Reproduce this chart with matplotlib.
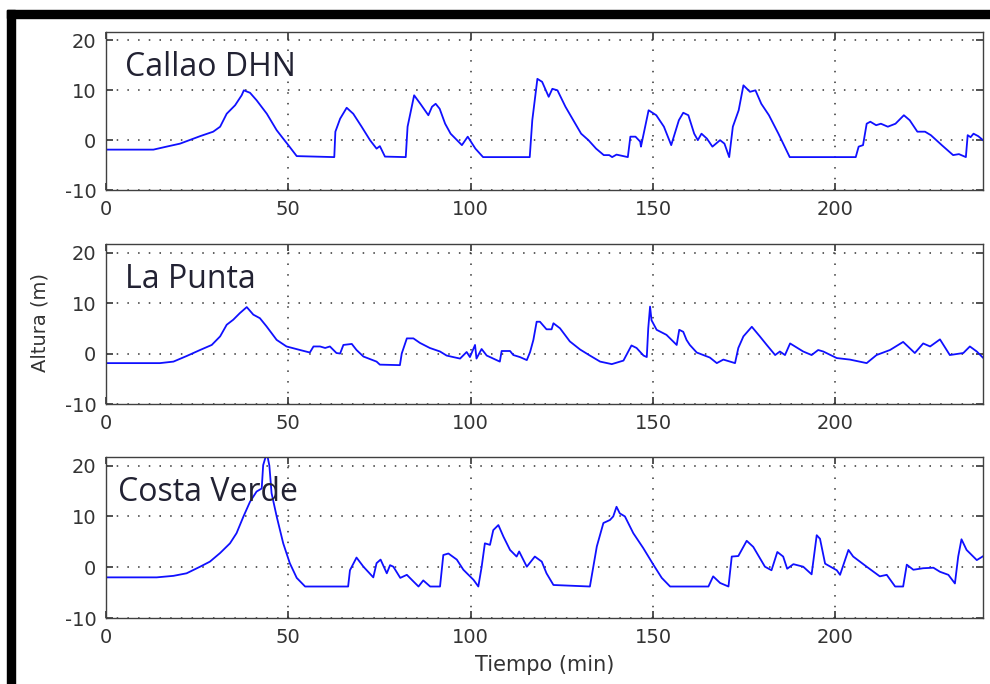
import matplotlib
matplotlib.use("Agg")
import matplotlib.pyplot as plt
from matplotlib.patches import Rectangle

plt.rcParams["axes.unicode_minus"] = False

# station names and tick values
stations = ["Callao DHN", "La Punta", "Costa Verde"]
x_ticks = [0, 50, 100, 150, 200]
y_ticks = [-10, 0, 10, 20]

# Callao DHN (time in min, height in m)
callao_t = [0, 13, 16.6, 20.3, 25.8, 29.4, 31.3, 33.1, 35.4, 37.2, 37.8, 39.5, 41.3, 44.1,
            46.8, 48.6, 50, 52.3, 62.6, 62.9, 64.2, 66, 67.8, 70.1, 72.4, 74.2, 75.1, 76.5,
            82.2, 82.7, 84.5, 86.2, 88.4, 89.4, 90.4, 91.5, 93, 94.5, 97.6, 99.2, 101.3,
            103.4, 116.2, 116.9, 118.3, 119.6, 121.4, 122.4, 123.8, 126, 128.7, 130.3,
            132.3, 134.4, 136.5, 138, 138.8, 140, 143.1, 143.8, 145.2, 146.5, 146.7,
            148.8, 150.9, 153, 155, 157.1, 158.3, 159.7, 161.3, 162.3, 163.3, 164.8,
            166.3, 168.4, 169.6, 170.9, 171.9, 173.5, 174.8, 176.6, 178.1, 179.7, 181.8,
            184.4, 187.5, 205.6, 206.4, 207.6, 208.6, 209.6, 211.2, 212.5, 214.4, 216.5,
            218.8, 220.4, 222.5, 224.6, 226.2, 229.2, 232.3, 233.9, 235.8, 236.3, 237.1,
            237.9, 239.2, 240.5]
callao_h = [-1.9, -1.9, -1.3, -0.7, 0.8, 1.7, 2.7, 5.3, 7.0, 9.0, 10.0, 9.5, 8.0, 5.3,
            2.0, 0.3, -1.0, -3.2, -3.4, 1.7, 4.3, 6.5, 5.3, 2.7, 0.0, -1.7, -1.2, -3.3,
            -3.4, 2.7, 9.0, 7.3, 5.0, 6.7, 7.3, 6.3, 3.3, 1.3, -1.0, 0.7, -1.7,
            -3.4, -3.4, 4.0, 12.3, 11.7, 8.7, 10.3, 10.0, 6.7, 3.3, 1.3,
            0.0, -1.7, -3.0, -3.0, -3.4, -2.9, -3.4, 0.7, 0.7, -0.3, -1.3,
            6.0, 5.0, 2.7, -1.0, 4.0, 5.5, 5.0, 1.3, 0.0, 1.3, 0.3,
            -1.3, 0.0, -0.7, -3.4, 2.7, 6.0, 11.0, 9.7, 10.0, 7.3, 5.0,
            1.3, -3.4, -3.4, -1.3, -1.0, 3.3, 3.7, 3.0, 3.3, 2.7, 3.3,
            5.0, 4.0, 1.7, 1.7, 1.0, -1.0, -3.0, -2.8, -3.4, 1.0, 0.6,
            1.3, 0.8, 0.0]

# La Punta
punta_t = [0, 14.8, 18.5, 22.1, 25.8, 29, 31.3, 33.1, 34.9, 36.7, 38.6, 40.4, 42.2, 44,
           46.8, 49.5, 53.2, 55.9, 56.9, 58.7, 60.1, 61.4, 63.2, 64.2, 65.1, 67.4, 68.7,
           70.6, 74.2, 75.1, 80.6, 81.1, 82.5, 84.3, 86.1, 88.8, 91.6, 93.4, 95.2, 97.1,
           98.9, 99.8, 101.2, 101.6, 103, 104.4, 106.2, 108, 108.5, 110.8, 111.7, 113.5,
           115.4, 116.3, 117.2, 118.1, 119, 120.8, 122.2, 122.7, 124.5, 127.2, 130,
           132.7, 135.5, 138.7, 141.9, 144.1, 145.5, 147.4, 148.3, 148.7, 149.2, 149.6,
           151, 153.7, 156.5, 157.2, 158.3, 159.2, 160.1, 162, 165.6, 167.5, 169.3,
           172.5, 173.4, 174.8, 177.1, 179.3, 181.2, 183.5, 184.8, 186.2, 187.6, 191.2,
           193.5, 195.3, 196.7, 200.4, 204, 208.6, 211.3, 215, 218.6, 221.8, 224.1, 226,
           228.7, 231.4, 235.1, 236.9, 238.8, 240.6]
punta_h = [-1.9, -1.9, -1.6, -0.5, 0.7, 1.7, 3.4, 5.7, 6.7, 8.0, 9.2, 7.7, 7.0, 5.4,
           2.7, 1.4, 0.7, 0.2, 1.4, 1.4, 1.1, 1.4, 0.1, 0.0, 1.7, 1.9, 0.7,
           -0.6, -1.6, -2.2, -2.3, 0.0, 3.0, 3.0, 2.1, 1.1, 0.4, -0.4, -0.7, -1.0,
           0.3, -0.7, 1.7, -1.0, 0.9, -0.4, -1.0, -1.6, 0.5, 0.5, -0.3, -0.7,
           -1.3, 0.3, 2.7, 6.3, 6.3, 4.8, 4.8, 6.0, 5.0, 2.4, 0.8,
           -0.4, -1.6, -2.1, -1.4, 1.6, 1.1, -0.4, -0.7, 5.0, 9.3, 6.6,
           4.7, 3.7, 1.7, 4.7, 4.3, 2.7, 1.7, 0.2, -0.8, -1.9, -1.2,
           -1.9, 1.1, 3.4, 5.3, 3.4, 1.7, -0.3, 0.4, -0.3, 2.0, 0.4,
           -0.3, 0.7, 0.4, -0.9, -1.2, -1.9, -0.3, 0.7, 2.3, 0.1, 2.0, 1.4,
           2.8, -0.3, 0.1, 1.4, 0.4, -0.9]

# Costa Verde
costa_t = [0, 13.9, 18.5, 22.1, 25.8, 28.5, 31.3, 34, 35.8, 37.7, 39.5, 41.3, 42.7, 43.1,
           44.1, 44.8, 45.4, 46.8, 48.6, 50.4, 52.3, 54.6, 66.4, 66.9, 68.7, 70.6, 73.3,
           74.2, 75.3, 77, 77.9, 78.8, 80.7, 82.5, 84.3, 85.7, 87, 88.9, 91.6, 92.5, 93.9,
           96.2, 98, 100.8, 102.1, 103, 103.9, 105.3, 106.2, 107.6, 109, 110.8, 112.6,
           113.3, 115.4, 117.6, 119.5, 120.8, 122.7, 132.7, 134.6, 136.4, 138.2, 139.1,
           140, 140.9, 142.3, 144.6, 147.3, 150.1, 152.4, 154.7, 165.2, 166.5, 168.4,
           170.7, 171.6, 173.4, 175.7, 177.5, 180.7, 182.5, 184.1, 185.7, 186.8, 188.5,
           191.2, 193.5, 194.9, 195.8, 197.2, 200.4, 201.3, 203.6, 204.9, 208.6, 212.2,
           214.1, 216.4, 218.6, 219.6, 221.4, 224.1, 226.9, 228.7, 231, 232.8, 233.7,
           234.6, 236, 238.8, 240.6]
costa_h = [-2.0, -2.0, -1.7, -1.2, 0.1, 1.1, 2.8, 4.7, 6.7, 10.0, 12.9, 14.9, 15.5, 20.1,
           22.5, 20.0, 14.6, 10.0, 4.7, 0.8, -2.1, -3.8, -3.8, -0.6, 1.9, 0.1, -2.0,
           0.8, 1.5, -1.2, 0.4, 0.1, -2.1, -1.5, -2.8, -3.8, -2.6, -3.8, -3.8, 2.4, 2.7,
           1.5, -0.5, -2.5, -3.8, 0.0, 4.7, 4.4, 7.3, 8.3, 6.0, 3.4, 2.1,
           3.1, 0.1, 2.1, 1.1, -1.2, -3.5, -3.8, 4.1, 8.7, 9.3, 10.0,
           11.9, 10.6, 10.0, 6.7, 3.8, 0.5, -2.1, -3.8, -3.8, -1.8, -3.1,
           -3.8, 2.1, 2.2, 5.2, 4.0, 0.1, -0.6, 3.0, 2.1, -0.3, 0.6,
           0.1, -1.4, 6.3, 5.6, 0.7, -0.6, -1.5, 3.4, 2.1, 0.1, -1.8,
           -1.5, -3.8, -3.8, 0.5, -0.5, -0.2, -0.1, -0.9, -1.5, -3.2, 2.1,
           5.5, 3.4, 1.4, 2.2]

series = [(callao_t, callao_h), (punta_t, punta_h), (costa_t, costa_h)]

W, H = 990, 684
fig = plt.figure(figsize=(W / 100, H / 100), dpi=100)

# axes boxes in pixels: (top, bottom)
boxes = [(32, 190), (244, 404), (457, 618)]
label_pos = [(0.022, 0.722), (0.022, 0.725), (0.014, 0.729)]
left, right = 106, 983

for i, (name, (t, h)) in enumerate(zip(stations, series)):
    top, bot = boxes[i]
    ax = fig.add_axes([left / W, 1 - bot / H, (right - left) / W, (bot - top) / H])
    ax.plot(t, h, color="#1010ff", linewidth=1.3)
    ax.set_xlim(0, 240.5)
    ax.set_ylim(-10, 21.7)
    ax.set_xticks(x_ticks)
    ax.set_yticks(y_ticks)
    ax.grid(True, color="#333333", linestyle=(0, (1, 6)), linewidth=1.1)
    ax.tick_params(direction="in", length=5, width=1.2, colors="#333333",
                   top=True, right=True, labelsize=14, pad=7)
    for s in ax.spines.values():
        s.set_color("#404040")
        s.set_linewidth(1.0)
    ax.text(label_pos[i][0], label_pos[i][1], name, transform=ax.transAxes,
            fontsize=23, family="Open Sans", color="#222233", va="baseline", ha="left")
    if i == 2:
        ax.set_xlabel("Tiempo (min)", fontsize=15, color="#333333", labelpad=6)

fig.text(40 / W, 1 - 323 / H, "Altura (m)", rotation=90, fontsize=14,
         color="#333333", ha="center", va="center")

# black frame around the figure (top and left)
fig.patches.append(Rectangle((7 / W, 1 - 18 / H), 1 - 7 / W, 8 / H,
                             transform=fig.transFigure, color="black", zorder=10))
fig.patches.append(Rectangle((7 / W, 0), 8 / W, 1 - 10 / H,
                             transform=fig.transFigure, color="black", zorder=10))

fig.savefig("out.png", dpi=100)
